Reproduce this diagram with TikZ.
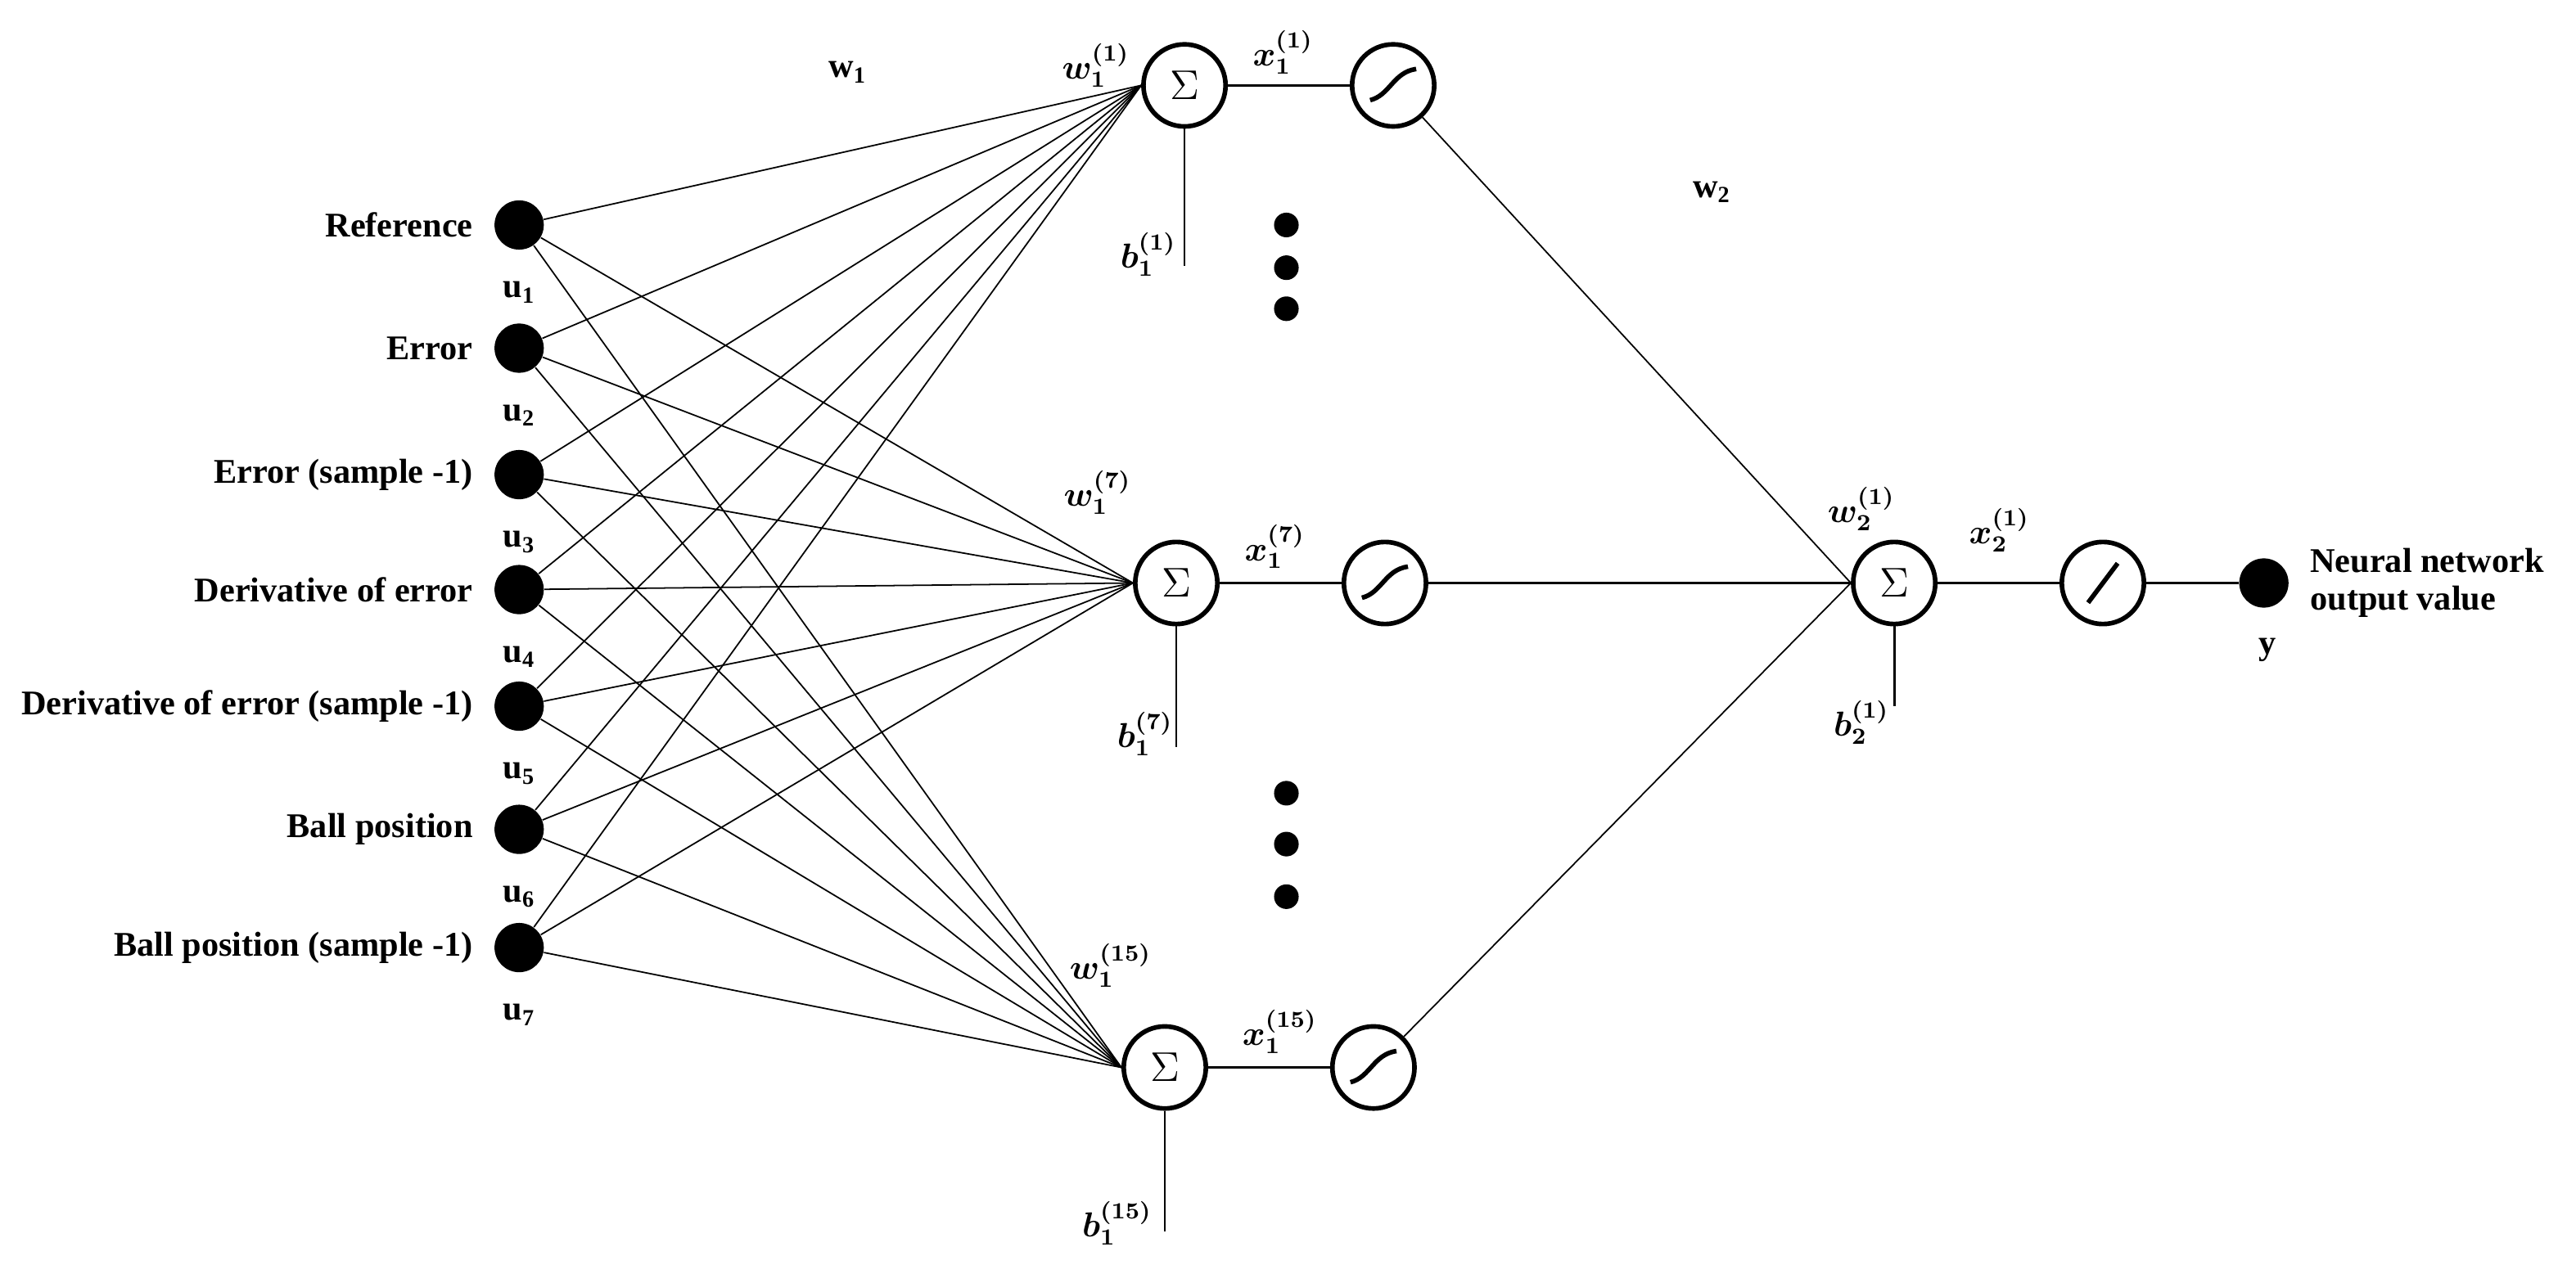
\documentclass[tikz,border=0pt]{standalone}
\usepackage{amsmath}
\usepackage{fontspec}
\setmainfont{Liberation Serif}
\begin{document}
\begin{tikzpicture}[x=0.02cm,y=-0.02cm,
  inp/.style={circle,fill=black,inner sep=0pt,minimum size=0.6cm},
  neu/.style={circle,draw,line width=1.6pt,minimum size=1cm,inner sep=0pt,font=\Large},
  dot/.style={circle,fill=black,inner sep=0pt,minimum size=0.3cm},
  lab/.style={font=\bfseries\fontsize{12}{13}\selectfont},
  conn/.style={line width=0.5pt}]
\useasboundingbox (0,0) rectangle (1568,781);
\foreach \i/\y/\t in {1/137/Reference,2/212/Error,3/289/Error (sample -1),4/359/Derivative of error,5/430/Derivative of error (sample -1),6/505/Ball position,7/577/Ball position (sample -1)}{
  \node[inp] (i\i) at (316,\y) {};
  \node[lab,anchor=east] (t\i) at (294,\y) {\t};
  \node[lab] (u\i) at (316,\y+41) {u\textsubscript{\i}};
}
\node[neu] (s1) at (721,52) {$\Sigma$};
\node[neu] (s7) at (716,355) {$\Sigma$};
\node[neu] (s15) at (709,650) {$\Sigma$};
\node[neu] (g1) at (848,52) {};
\node[neu] (g7) at (843,355) {};
\node[neu] (g15) at (836,650) {};
\foreach \g in {g1,g7,g15}{
  \draw[line width=1.6pt] ([shift={(-14,9)}]\g.center) .. controls ([shift={(-2,6)}]\g.center) and ([shift={(0,-8)}]\g.center) .. ([shift={(14,-10)}]\g.center);
}
\node[neu] (so) at (1153,355) {$\Sigma$};
\node[neu] (lo) at (1280,355) {};
\draw[line width=1.6pt] ([shift={(-9,12)}]lo.center) -- ([shift={(9,-12)}]lo.center);
\node[inp] (y) at (1378,355) {};
\node[lab,anchor=west,align=left] (nn) at (1400,355) {Neural network\\output value};
\node[lab] (ylab) at (1380,396) {y};
\foreach \k/\y in {a/137,b/163,c/188,d/483,e/514,f/546}{\node[dot] (d\k) at (783,\y) {};}
\foreach \i in {1,...,7}{\foreach \s in {s1,s7,s15}{\draw[conn] (i\i) -- (\s.west);}}
\foreach \a/\b in {s1/g1,s7/g7,s15/g15,so/lo}{\draw[line width=1pt] (\a) -- (\b);}
\draw[line width=1pt] (lo) -- (y);
\foreach \g in {g1,g15}{\draw[conn] (\g) -- (so.west);}
\draw[line width=0.7pt] (g7) -- (so.west);
\coordinate (e1) at (721,162); \coordinate (e7) at (716,455);
\coordinate (e15) at (709,750); \coordinate (eo) at (1153,430);
\foreach \s/\e in {s1/e1,s7/e7,s15/e15,so/eo}{\draw[line width=0.8pt] (\s.south) -- (\e);}
\node[lab] (w1) at (516,44) {w\textsubscript{1}};
\node[lab] (w2) at (1042,117) {w\textsubscript{2}};
\node[lab] at (667,40) {$\boldsymbol{w_1^{(1)}}$};
\node[lab] at (781,32) {$\boldsymbol{x_1^{(1)}}$};
\node[lab] at (668,300) {$\boldsymbol{w_1^{(7)}}$};
\node[lab] at (776,333) {$\boldsymbol{x_1^{(7)}}$};
\node[lab] at (676,588) {$\boldsymbol{w_1^{(15)}}$};
\node[lab] at (779,628) {$\boldsymbol{x_1^{(15)}}$};
\node[lab] at (1133,310) {$\boldsymbol{w_2^{(1)}}$};
\node[lab] at (1217,323) {$\boldsymbol{x_2^{(1)}}$};
\node[lab] at (699,155) {$\boldsymbol{b_1^{(1)}}$};
\node[lab] at (697,447) {$\boldsymbol{b_1^{(7)}}$};
\node[lab] at (680,745) {$\boldsymbol{b_1^{(15)}}$};
\node[lab] at (1133,440) {$\boldsymbol{b_2^{(1)}}$};
\end{tikzpicture}
\end{document}
